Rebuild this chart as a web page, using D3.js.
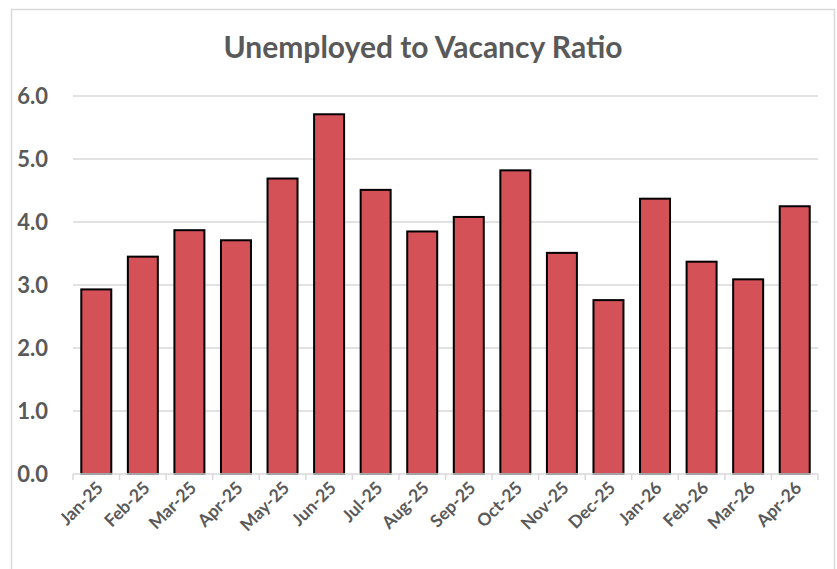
<!DOCTYPE html>
<html>
<head>
<meta charset="utf-8">
<script src="https://cdn.jsdelivr.net/npm/d3@7"></script>
<style>
  body { margin: 0; background: #fff; }
  text { font-family: Lato, "Open Sans", sans-serif; font-weight: bold; fill: #595959; }
</style>
</head>
<body>
<div id="chart"></div>
<script>
// data
var months = ["Jan-25", "Feb-25", "Mar-25", "Apr-25", "May-25", "Jun-25", "Jul-25", "Aug-25",
              "Sep-25", "Oct-25", "Nov-25", "Dec-25", "Jan-26", "Feb-26", "Mar-26", "Apr-26"];
var ratios = [2.93, 3.45, 3.87, 3.71, 4.69, 5.71, 4.51, 3.85,
              4.08, 4.82, 3.51, 2.76, 4.37, 3.37, 3.09, 4.25];
var yTicks = [0, 1, 2, 3, 4, 5, 6];

var W = 837, H = 569;
var margin = {top: 96, right: 19, bottom: 95, left: 73},
    width = W - margin.left - margin.right,
    height = H - margin.top - margin.bottom;

var svg = d3.select("#chart").append("svg")
    .attr("width", W)
    .attr("height", H);

// chart frame
svg.append("rect")
    .attr("x", 11.5).attr("y", 9.5)
    .attr("width", 823).attr("height", 580)
    .attr("fill", "#fff")
    .attr("stroke", "#d9d9d9")
    .attr("stroke-width", 1.5);

svg.append("text")
    .attr("x", 423)
    .attr("y", 58)
    .attr("text-anchor", "middle")
    .style("font-size", "30px")
    .text("Unemployed to Vacancy Ratio");

var g = svg.append("g")
    .attr("transform", "translate(" + margin.left + "," + margin.top + ")");

var x = d3.scaleBand()
    .domain(months)
    .range([0, width])
    .paddingInner(0.356)
    .paddingOuter(0.178);

var y = d3.scaleLinear()
    .domain([0, 6])
    .range([height, 0]);

// horizontal grid
g.selectAll(".hline").data(yTicks.filter(function(d) { return d > 0; })).enter()
  .append("line")
    .attr("class", "hline")
    .attr("x1", 0).attr("x2", width)
    .attr("y1", function(d) { return y(d); })
    .attr("y2", function(d) { return y(d); })
    .attr("stroke", "#d9d9d9")
    .attr("stroke-width", 1.5);

// y axis labels
var yAxis = g.append("g")
    .call(d3.axisLeft(y).tickValues(yTicks).tickFormat(d3.format(".1f")).tickSize(0).tickPadding(25));
yAxis.select(".domain").remove();
yAxis.selectAll("text")
    .style("font-size", "22px")
    .attr("fill", "#595959");

// bars
g.selectAll(".bar").data(ratios).enter()
  .append("rect")
    .attr("class", "bar")
    .attr("x", function(d, i) { return x(months[i]); })
    .attr("width", x.bandwidth())
    .attr("y", function(d) { return y(d); })
    .attr("height", function(d) { return height - y(d); })
    .attr("fill", "#d55158")
    .attr("stroke", "#000")
    .attr("stroke-width", 2);

// x axis line with ticks at category boundaries
var step = x.step();
var xAxis = g.append("g").attr("transform", "translate(0," + height + ")");
xAxis.append("line")
    .attr("x1", 0).attr("x2", width)
    .attr("stroke", "#d9d9d9").attr("stroke-width", 1.5);
xAxis.selectAll(".tick").data(d3.range(months.length + 1)).enter()
  .append("line")
    .attr("x1", function(i) { return i * step; })
    .attr("x2", function(i) { return i * step; })
    .attr("y1", 0).attr("y2", 6)
    .attr("stroke", "#d9d9d9").attr("stroke-width", 1.5);

xAxis.selectAll(".xlabel").data(months).enter()
  .append("text")
    .attr("class", "xlabel")
    .attr("text-anchor", "end")
    .attr("transform", function(d) {
        return "translate(" + (x(d) + x.bandwidth() / 2 + 8) + ",15) rotate(-45)";
    })
    .style("font-size", "17.5px")
    .text(function(d) { return d; });
</script>
</body>
</html>
